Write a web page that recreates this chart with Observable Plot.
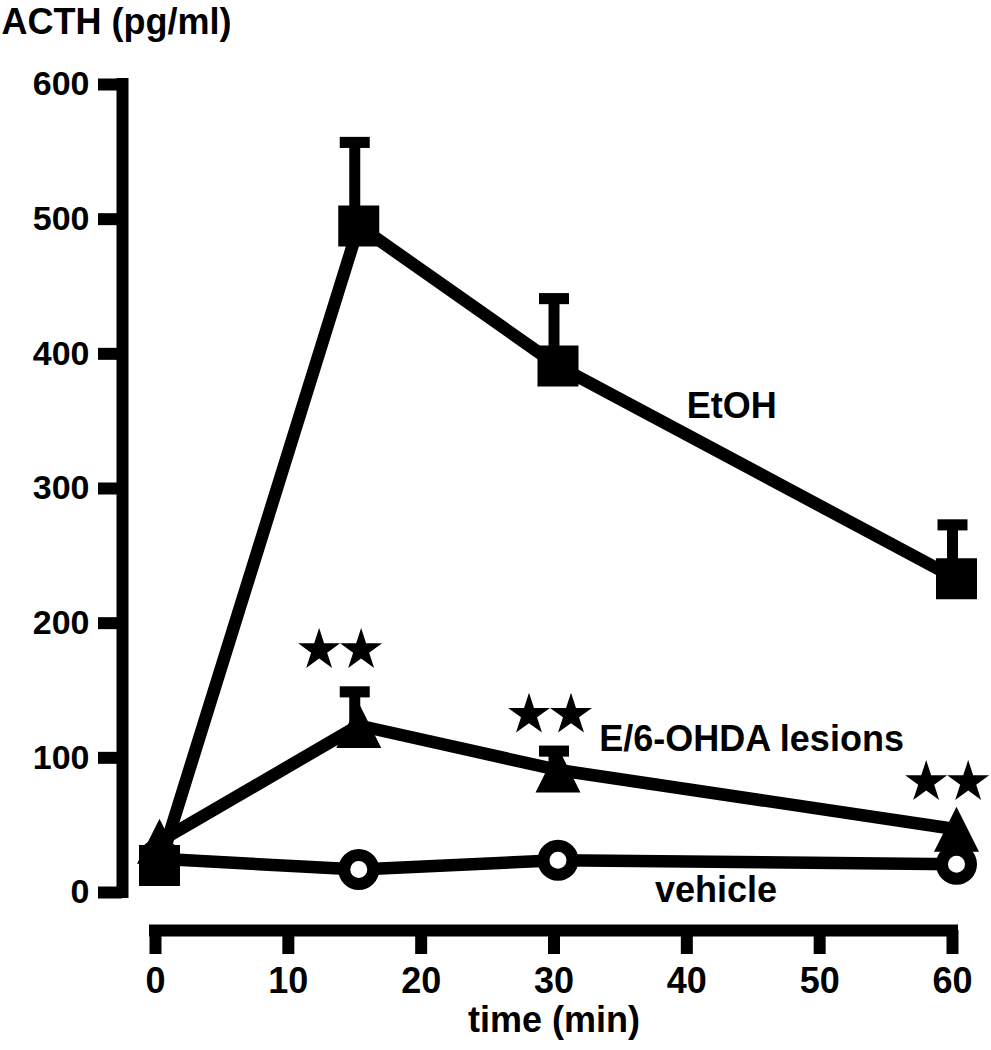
<!DOCTYPE html>
<html><head><meta charset="utf-8">
<script src="https://cdn.jsdelivr.net/npm/d3@7"></script>
<script src="https://cdn.jsdelivr.net/npm/@observablehq/plot@0.6"></script>
<style>body{margin:0;background:#fff;}</style>
</head><body><div id="chart"></div>
<script>
// ---- data ----
const times = [0, 15, 30, 60];
const etohMean = [20, 495, 391, 233];
const etohTop = [null, 557, 441, 273];
const lesionMean = [38, 124, 91, 47];
const lesionTop = [null, 149, 105, null];
const vehicleMean = [25, 17, 24, 21];

const xTicks = [0, 10, 20, 30, 40, 50, 60];
const yTicks = [0, 100, 200, 300, 400, 500, 600];

const starTimes = [13.9, 29.7, 59.6];
const starLevels = [180, 132, 82];

const labelNames = ["EtOH", "E/6-OHDA lesions", "vehicle"];
const labelTimes = [40.0, 33.4, 37.6];
const labelLevels = [361, 114, 1.5];

const yTitle = "ACTH (pg/ml)";
const xTitle = "time (min)";

// ---- tables ----
const mk = (name, means, tops) => times.map((t, i) => ({series: name, t, v: means[i], top: tops ? tops[i] : null}));
const etoh = mk("EtOH", etohMean, etohTop);
const lesion = mk("lesion", lesionMean, lesionTop);
const vehicle = mk("vehicle", vehicleMean, null);
const all = [...vehicle, ...lesion, ...etoh];
const withErr = all.filter(d => d.top != null);
const stars = starTimes.map((t, i) => ({t, v: starLevels[i]}));
const labels = labelNames.map((n, i) => ({n, t: labelTimes[i], v: labelLevels[i]}));

const capSymbol = {draw(ctx, size) { const w = Math.sqrt(size); const h = w * 0.37; ctx.rect(-w / 2, -h / 2, w, h); }};
const triSymbol = {draw(ctx, size) { const s = Math.sqrt(size); ctx.moveTo(0, -s / 2); ctx.lineTo(s / 2, s / 2); ctx.lineTo(-s / 2, s / 2); ctx.closePath(); }};
const R = px => px / Math.sqrt(Math.PI);

const xExt = d3.extent(xTicks), yExt = d3.extent(yTicks);

const chart = Plot.plot({
  width: 991,
  height: 1050,
  marginLeft: 122,
  marginRight: 39,
  marginTop: 84,
  marginBottom: 120,
  style: {fontFamily: "'Liberation Sans', Arial, Helvetica, sans-serif", fontWeight: "bold", color: "black", background: "white", overflow: "visible"},
  x: {domain: xExt, insetLeft: 33},
  y: {domain: yExt, insetBottom: 38},
  marks: [
    // axis lines (offset, Prism style)
    Plot.ruleX([xExt[0]], {y1: yExt[0], y2: yExt[1], dx: -33, stroke: "black", strokeWidth: 12, strokeLinecap: "square"}),
    Plot.ruleY([yExt[0]], {x1: xExt[0], x2: xExt[1], dy: 38, stroke: "black", strokeWidth: 12, strokeLinecap: "square"}),
    Plot.axisY({ticks: yTicks, tickSize: 24, tickPadding: 9, strokeWidth: 12, fontSize: 34, label: null, tickFormat: d => String(d)}),
    Plot.axisX({ticks: xTicks, tickSize: 24, tickPadding: 13, strokeWidth: 12, fontSize: 36, label: null, tickFormat: d => String(d)}),
    // series lines
    Plot.line(all, {x: "t", y: "v", z: "series", stroke: "black", strokeWidth: 12.5, strokeLinejoin: "round", dx: 4}),
    // error bars
    Plot.ruleX(withErr, {x: "t", y1: "v", y2: "top", stroke: "black", strokeWidth: 11}),
    Plot.dot(withErr, {x: "t", y: "top", symbol: capSymbol, r: R(30), fill: "black", stroke: null}),
    // markers
    Plot.dot(vehicle, {x: "t", y: "v", r: 14.5, fill: "white", stroke: "black", strokeWidth: 12, dx: 4}),
    Plot.dot(lesion, {x: "t", y: "v", symbol: triSymbol, r: R(45), fill: "black", stroke: null, dx: 4}),
    Plot.dot(etoh, {x: "t", y: "v", symbol: "square", r: R(41), fill: "black", stroke: null, dx: 4}),
    // significance stars
    Plot.dot(stars, {x: "t", y: "v", symbol: "star", r: 13.2, fill: "black", stroke: null, dx: -21}),
    Plot.dot(stars, {x: "t", y: "v", symbol: "star", r: 13.2, fill: "black", stroke: null, dx: 21}),
    // series labels
    Plot.text(labels, {x: "t", y: "v", text: "n", textAnchor: "start", fontSize: 36, fontWeight: "bold", fill: "black"}),
    // titles
    Plot.text([yTitle], {text: d => d, frameAnchor: "top-left", dx: -121, dy: -76, textAnchor: "start", lineAnchor: "top", fontSize: 36, fontWeight: "bold", fill: "black"}),
    Plot.text([xTitle], {text: d => d, x: () => (xExt[0] + xExt[1]) / 2, frameAnchor: "bottom", dy: 101, fontSize: 36, fontWeight: "bold", fill: "black"})
  ]
});
document.getElementById("chart").appendChild(chart);
</script>
</body></html>
